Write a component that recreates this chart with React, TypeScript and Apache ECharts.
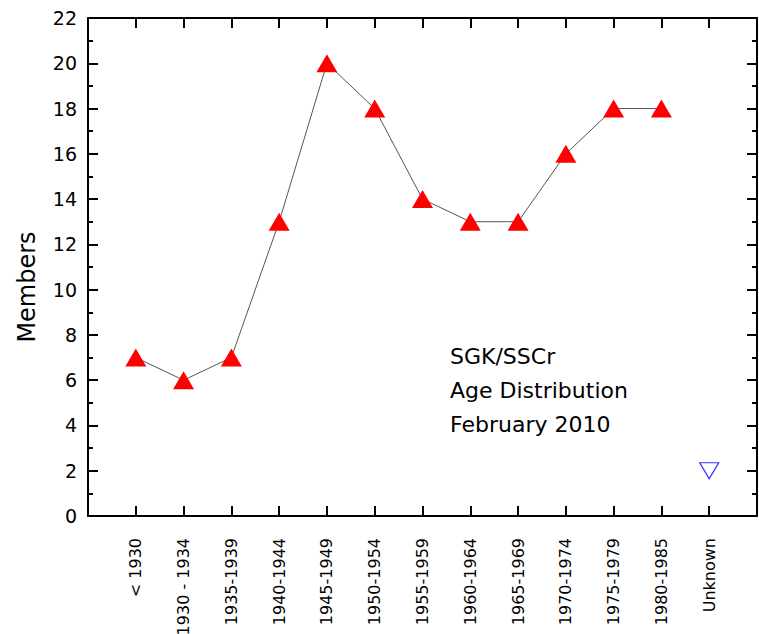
import React, { useEffect, useRef } from "react";
import * as echarts from "echarts";

const categories = [
  "< 1930", "1930 - 1934", "1935-1939", "1940-1944", "1945-1949", "1950-1954",
  "1955-1959", "1960-1964", "1965-1969", "1970-1974", "1975-1979", "1980-1985", "Unknown",
];
const members = [7, 6, 7, 13, 20, 18, 14, 13, 13, 16, 18, 18];
const unknownMembers = [2];
const yTicks = { min: 0, max: 22, interval: 2 };
const yTitle = "Members";
const noteLines = ["SGK/SSCr", "Age Distribution", "February 2010"];

const FONT = "'DejaVu Sans', Verdana, sans-serif";

export default function App() {
  const ref = useRef<HTMLDivElement>(null);
  useEffect(() => {
    if (!ref.current) return;
    const chart = echarts.init(ref.current, undefined, { renderer: "svg" });
    const lineData = members.map((v, i) => [i + 1, v]);
    const unkData = unknownMembers.map((v) => [categories.length, v]);
    const axisLine = { show: true, onZero: false, lineStyle: { color: "#000", width: 2 } };
    chart.setOption({
      animation: false,
      backgroundColor: "#fff",
      grid: {
        left: 88,
        right: 2,
        top: 18,
        bottom: 118,
        containLabel: false,
        outerBoundsMode: "none",
      },
      xAxis: [
        {
          type: "value",
          min: 0,
          max: categories.length + 1,
          interval: 1,
          position: "bottom",
          axisLine,
          axisTick: { show: true, inside: true, length: 10, lineStyle: { color: "#000", width: 2 } },
          splitLine: { show: false },
          axisLabel: {
            rotate: 90,
            margin: 22,
            fontFamily: FONT,
            fontSize: 16,
            color: "#000",
            formatter: (v: number) => categories[v - 1] ?? "",
          },
        },
        {
          type: "value",
          min: 0,
          max: categories.length + 1,
          interval: 1,
          position: "top",
          axisLine,
          axisTick: { show: true, inside: true, length: 10, lineStyle: { color: "#000", width: 2 } },
          splitLine: { show: false },
          axisLabel: { show: false },
        },
      ],
      yAxis: [
        {
          type: "value",
          min: yTicks.min,
          max: yTicks.max,
          interval: yTicks.interval,
          position: "left",
          axisLine,
          axisTick: { show: true, inside: true, length: 10, lineStyle: { color: "#000", width: 2 } },
          minorTick: { show: true, splitNumber: 2, length: 5, lineStyle: { color: "#000", width: 2 } },
          splitLine: { show: false },
          axisLabel: { margin: 11, fontFamily: FONT, fontSize: 19, color: "#000" },
        },
        {
          type: "value",
          min: yTicks.min,
          max: yTicks.max,
          interval: yTicks.interval,
          position: "right",
          axisLine,
          axisTick: { show: true, inside: true, length: 10, lineStyle: { color: "#000", width: 2 } },
          minorTick: { show: true, splitNumber: 2, length: 5, lineStyle: { color: "#000", width: 2 } },
          splitLine: { show: false },
          axisLabel: { show: false },
        },
      ],
      series: [
        {
          type: "line",
          data: lineData,
          symbol: "triangle",
          symbolSize: [21, 18],
          itemStyle: { color: "#ff0000" },
          lineStyle: { color: "#555", width: 1 },
        },
        {
          type: "scatter",
          data: unkData,
          symbol: "triangle",
          symbolRotate: 180,
          symbolSize: [19, 16],
          itemStyle: { color: "#fff", borderColor: "#0000ff", borderWidth: 1.2 },
        },
      ],
      graphic: [
        {
          type: "text",
          x: 27,
          y: 287,
          rotation: Math.PI / 2,
          style: {
            text: yTitle,
            fontFamily: FONT,
            fontSize: 24,
            fill: "#000",
            align: "center",
            verticalAlign: "middle",
          },
        },
        {
          type: "text",
          left: 450,
          top: 339,
          style: {
            text: noteLines.join("\n"),
            fontFamily: FONT,
            fontSize: 22,
            lineHeight: 34,
            fill: "#000",
          },
        },
      ],
    });
    return () => chart.dispose();
  }, []);
  return (
    <div
      ref={ref}
      style={{ position: "fixed", left: 0, top: 0, width: 759, height: 634 }}
    />
  );
}
